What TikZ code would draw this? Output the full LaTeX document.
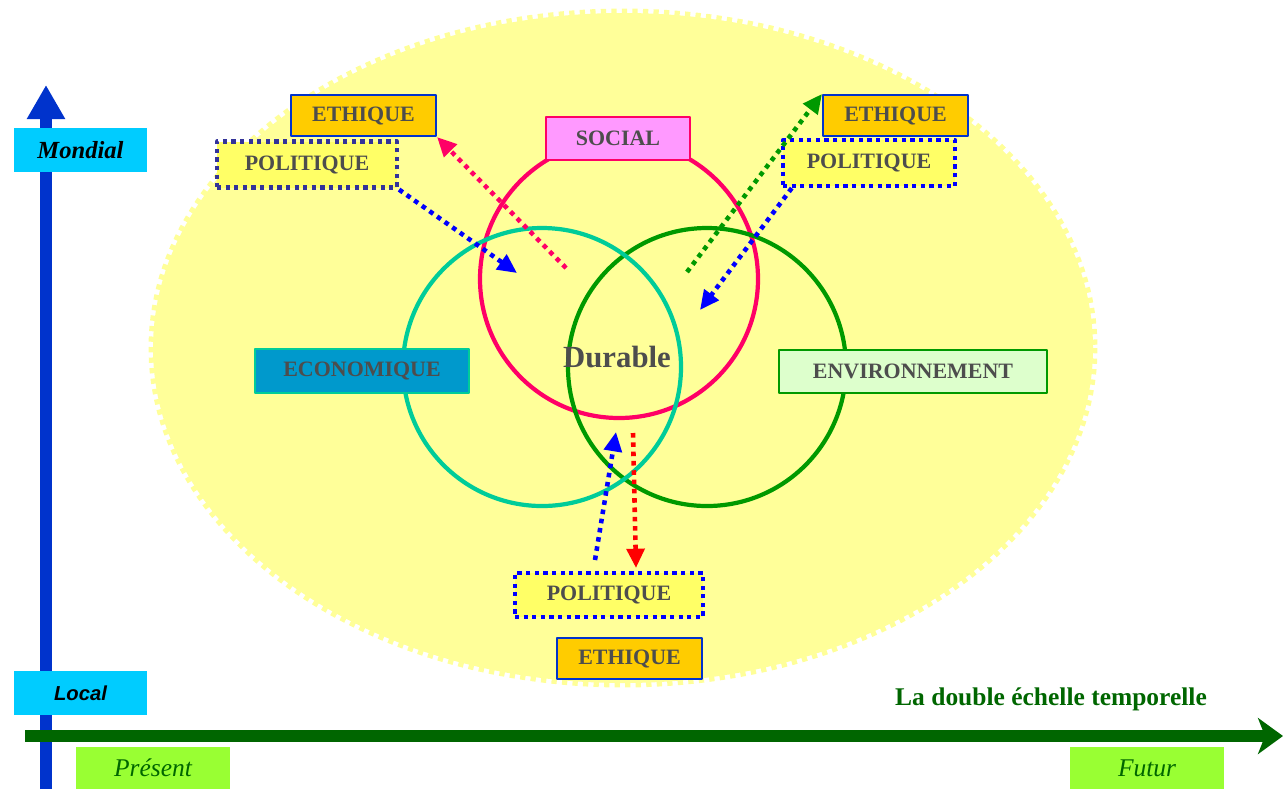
\documentclass[tikz,border=0pt]{standalone}
\usepackage{fontspec}
\setmainfont{Liberation Serif}
\newfontfamily\arialfont{Liberation Sans}
\usetikzlibrary{arrows.meta}

\definecolor{fond}{HTML}{FFFF99}
\definecolor{txtgray}{HTML}{4D4D4D}
\definecolor{rose}{HTML}{FF0066}
\definecolor{roseclair}{HTML}{FF99FF}
\definecolor{turq}{HTML}{00CC99}
\definecolor{ecofill}{HTML}{0099CC}
\definecolor{envfill}{HTML}{DDFFCC}
\definecolor{vert}{HTML}{009900}
\definecolor{vertfonce}{HTML}{006600}
\definecolor{bleuaxe}{HTML}{0033CC}
\definecolor{ciel}{HTML}{00CCFF}
\definecolor{pomme}{HTML}{99FF33}
\definecolor{ethfill}{HTML}{FFCC00}
\definecolor{polfill}{HTML}{FFFF66}
\definecolor{marine}{HTML}{333399}

\begin{document}
\begin{tikzpicture}[x=0.02cm,y=-0.02cm,line join=round,
  lbl/.style={font=\fontsize{12.5}{14}\selectfont\bfseries,text=txtgray,inner sep=0pt},
  ethbox/.style={lbl,fill=ethfill,draw=bleuaxe,line width=1.2pt,minimum width=2.9cm,minimum height=0.82cm},
  polbox/.style={lbl,fill=polfill,draw=#1,line width=2.4pt,dash pattern=on 2.4pt off 2.5pt,minimum height=0.92cm},
  dimbox/.style={lbl,fill=#1,line width=1.2pt,minimum height=0.87cm},
  dotarrow/.style={draw=#1,line width=2.6pt,dash pattern=on 2.6pt off 2.7pt,-{Triangle[length=11pt,width=10pt,fill=#1]}},
  ring/.style={draw=#1,line width=2.4pt},
  scalebox/.style={fill=ciel,inner sep=0pt,minimum width=2.66cm,minimum height=0.88cm},
  timebox/.style={fill=pomme,inner sep=0pt,minimum width=3.08cm,minimum height=0.84cm,
    text=vertfonce,font=\fontsize{14.5}{16}\selectfont\itshape}]
  \useasboundingbox (0,0) rectangle (1283,789);

  \fill[fond] (623,348) ellipse [x radius=470,y radius=335];
  \draw[fond,line width=2.8pt,dash pattern=on 3pt off 3pt] (623,348) ellipse [x radius=472,y radius=337];

  \coordinate (cS) at (619,279);
  \coordinate (cE) at (542,367);
  \coordinate (cV) at (707,367);
  \draw[ring=rose] (cS) circle [radius=139];
  \draw[ring=vert] (cV) circle [radius=139];
  \draw[ring=turq] (cE) circle [radius=139];

  \draw[bleuaxe,line width=6.8pt,-{Triangle[length=0.68cm,width=0.72cm]}] (46,789) -- (46,85);
  \draw[vertfonce,line width=6.8pt,-{Stealth[length=0.5cm,width=0.72cm,inset=0.14cm]}] (25,736) -- (1283,736);

  \node[scalebox,font=\fontsize{14}{16}\selectfont\bfseries\itshape] (mondial) at (80.5,150) {Mondial};
  \node[scalebox,font=\arialfont\fontsize{11.5}{14}\selectfont\bfseries\itshape] (local) at (80.5,693) {Local};
  \node[timebox] (present) at (153,768) {Présent};
  \node[timebox] (futur) at (1147,768) {Futur};
  \node[font=\fontsize{14.5}{16}\selectfont\bfseries,text=vertfonce] (echelle) at (1051,699) {La double échelle temporelle};

  \node[dimbox=roseclair,draw=rose,minimum width=2.88cm] (social) at (618,138.5) {SOCIAL};
  \node[dimbox=ecofill,draw=turq,minimum width=4.28cm] (eco) at (362,371) {ECONOMIQUE};
  \node[dimbox=envfill,draw=vert,minimum width=5.36cm] (env) at (913,371.5) {ENVIRONNEMENT};
  \node[font=\fontsize{17.5}{20}\selectfont\bfseries,text=txtgray] (durable) at (617,357) {Durable};

  \node[ethbox] (ethL) at (363.5,115.5) {ETHIQUE};
  \node[polbox=marine,minimum width=3.6cm] (polL) at (307,164.5) {POLITIQUE};
  \node[ethbox] (ethR) at (895.5,115.5) {ETHIQUE};
  \node[polbox=blue,minimum width=3.44cm] (polR) at (869,163) {POLITIQUE};
  \node[polbox=blue,minimum width=3.76cm,minimum height=0.88cm] (polB) at (609,595) {POLITIQUE};
  \node[ethbox] (ethB) at (629.5,658.5) {ETHIQUE};

  \coordinate (pinkS) at (566,268);
  \coordinate (bluL) at (517,273);
  \coordinate (greenS) at (687,272);
  \coordinate (bluR) at (700,310);
  \coordinate (bluB) at (595,560);
  \coordinate (bluBt) at (616,432);
  \coordinate (redS) at (633,433);
  \coordinate (redE) at (636,568);
  \draw[dotarrow=rose] (pinkS) -- (ethL.south east);
  \draw[dotarrow=blue] (polL.south east) -- (bluL);
  \draw[dotarrow=vert] (greenS) -- (ethR.north west);
  \draw[dotarrow=blue] (polR.-162) -- (bluR);
  \draw[dotarrow=blue] (bluB) -- (bluBt);
  \draw[dotarrow=red] (redS) -- (redE);
\end{tikzpicture}
\end{document}
